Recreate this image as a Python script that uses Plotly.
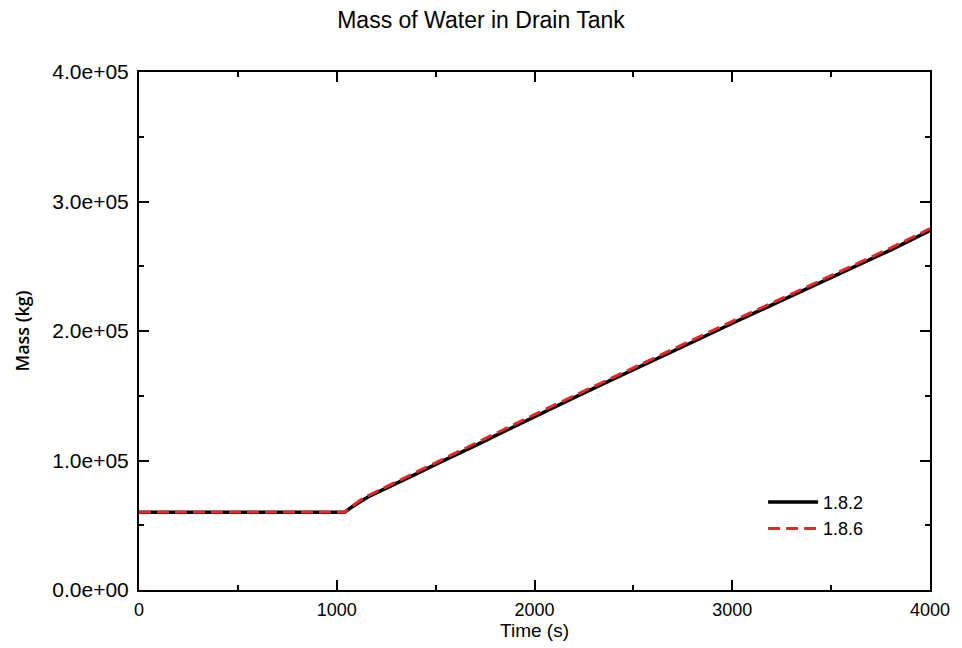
import plotly.graph_objects as go

time_s = [0, 500, 1000, 1040, 1080, 1120, 1160, 1200, 1250, 1300, 1400, 1500, 1600,
          1700, 1800, 1900, 2000, 2200, 2400, 2600, 2800, 3000, 3200, 3400, 3600,
          3800, 4000]
mass_182 = [60000, 60000, 60000, 60000, 64500, 68500, 72000, 75000, 78500, 82000,
            89500, 97000, 104000, 111500, 119000, 126500, 134000, 148500, 163000,
            177000, 191500, 206000, 220000, 234000, 248000, 262500, 277500]
mass_186 = [60000, 60000, 60000, 60000, 65000, 69500, 73000, 76000, 79500, 83000,
            90500, 98500, 105500, 113000, 120500, 128000, 135500, 150000, 164500,
            178500, 193000, 207500, 221500, 235500, 249500, 264000, 279000]

x_ticks = [0, 1000, 2000, 3000, 4000]
y_ticks = [0, 100000, 200000, 300000, 400000]
y_labels = ["0.0e+00", "1.0e+05", "2.0e+05", "3.0e+05", "4.0e+05"]

FONT = "Liberation Sans, Arial"

fig = go.Figure()
fig.add_trace(go.Scatter(x=time_s, y=mass_182, mode="lines", name="1.8.2",
                         line=dict(color="black", width=3.5)))
fig.add_trace(go.Scatter(x=time_s, y=mass_186, mode="lines", name="1.8.6",
                         line=dict(color="#e8262a", width=3, dash="12px,6px")))

axis_common = dict(showgrid=False, zeroline=False, showline=True, linecolor="black",
                   linewidth=2, mirror="ticks", ticks="inside", ticklen=10,
                   tickwidth=1.5, tickcolor="black")

fig.update_xaxes(range=[0, 4000], tickvals=x_ticks, ticklabelstandoff=2,
                 tickfont=dict(family=FONT, size=18, color="black"),
                 minor=dict(tickvals=[500, 1500, 2500, 3500], ticklen=5, tickwidth=1.5,
                            ticks="inside", tickcolor="black"),
                 title=dict(text="Time (s)", font=dict(family=FONT, size=19, color="black"),
                            standoff=3),
                 **axis_common)
fig.update_yaxes(range=[0, 400000], tickvals=y_ticks, ticktext=y_labels, ticklabelstandoff=4,
                 tickfont=dict(family=FONT, size=21, color="black"),
                 minor=dict(tickvals=[50000, 150000, 250000, 350000], ticklen=5, tickwidth=1.5,
                            ticks="inside", tickcolor="black"),
                 title=dict(text="Mass (kg)", font=dict(family="Open Sans, Liberation Sans", size=18,
                                                        color="black", weight=600),
                            standoff=18),
                 **axis_common)

fig.update_layout(
    width=962, height=648,
    paper_bgcolor="white", plot_bgcolor="white",
    margin=dict(l=139, r=26, t=72, b=57),
    title=dict(text="Mass of Water in Drain Tank", x=0.5, xanchor="center",
               y=0.969, yanchor="middle",
               font=dict(family=FONT, size=23, color="black")),
    legend=dict(x=0.789, y=0.205, xanchor="left", yanchor="top",
                bgcolor="rgba(0,0,0,0)", borderwidth=0,
                font=dict(family=FONT, size=18, color="black"),
                itemwidth=50, tracegroupgap=0),
    showlegend=True,
)

fig.write_html("out.html")
